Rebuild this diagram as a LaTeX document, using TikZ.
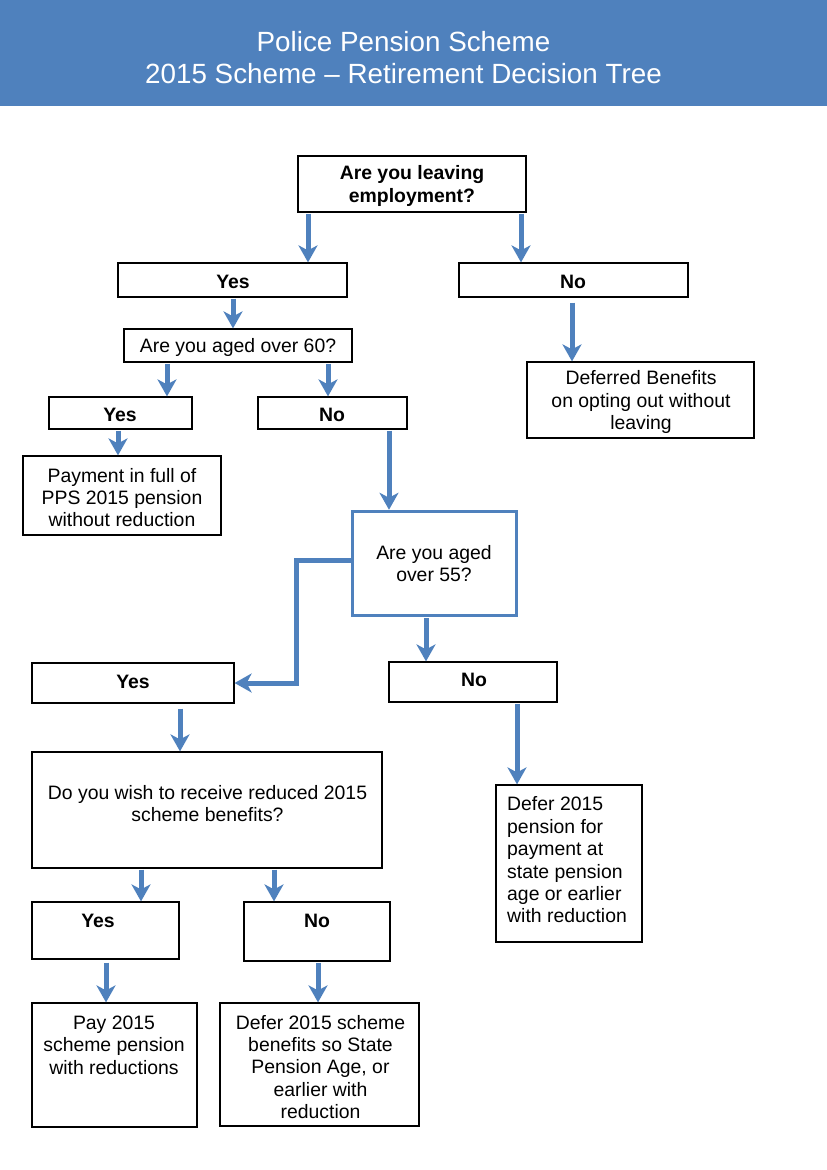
\documentclass[tikz,border=0pt]{standalone}
\usepackage{fontspec}
\setmainfont{Liberation Sans}
\usetikzlibrary{arrows.meta,calc}
\definecolor{pblue}{HTML}{4F81BD}
\begin{document}
\begin{tikzpicture}[x=1pt,y=-1pt,
  box/.style={draw=black,line width=1.2pt,rectangle,inner sep=0pt},
  qbox/.style={draw=pblue,line width=3.5pt,rectangle,inner sep=0pt},
  txt/.style={inner sep=0pt,align=center,font=\fontsize{19.4}{22.4}\selectfont},
  btxt/.style={inner sep=0pt,align=center,font=\fontsize{19.4}{22.4}\selectfont\bfseries},
  arr/.style={draw=pblue,line width=5pt,shorten <=1pt,-{Stealth[width=19pt,length=17pt,inset=5pt]}}
]
\useasboundingbox (0,0) rectangle (827,1170);
% header
\node[fill=pblue,draw=none,inner sep=0pt,minimum width=827pt,minimum height=106pt] (header) at (413.5,53) {};
\node[text=white,inner sep=0pt,anchor=base,font=\fontsize{27.8}{32}\selectfont] (title1) at (403.5,51) {Police Pension Scheme};
\node[text=white,inner sep=0pt,anchor=base,font=\fontsize{27.8}{32}\selectfont] (title2) at (403.5,83) {2015 Scheme -- Retirement Decision Tree};

% boxes
\node[box,minimum width=228pt,minimum height=56pt] (q1) at (412,184) {};
\node[box,minimum width=229pt,minimum height=34pt] (yes1) at (232.5,280) {};
\node[box,minimum width=229pt,minimum height=34pt] (no1) at (573.5,280) {};
\node[box,minimum width=228pt,minimum height=33pt] (q60) at (238,345.5) {};
\node[box,minimum width=143pt,minimum height=32pt] (yes2) at (120.5,413) {};
\node[box,minimum width=149pt,minimum height=32pt] (no2) at (332.5,413) {};
\node[box,minimum width=198pt,minimum height=79pt] (pay1) at (122,495.5) {};
\node[qbox,minimum width=164pt,minimum height=104pt] (q55) at (434.5,563.5) {};
\node[box,minimum width=202pt,minimum height=40pt] (yes3) at (133,683) {};
\node[box,minimum width=168pt,minimum height=40pt] (no3) at (473,682) {};
\node[box,minimum width=350pt,minimum height=116pt] (qred) at (207,810) {};
\node[box,minimum width=147pt,minimum height=57pt] (yes4) at (105.5,930.5) {};
\node[box,minimum width=146pt,minimum height=59pt] (no4) at (317,931.5) {};
\node[box,minimum width=165pt,minimum height=124pt] (pay2) at (114.5,1065) {};
\node[box,minimum width=199pt,minimum height=123pt] (defer2) at (319.5,1064.5) {};
\node[box,minimum width=146pt,minimum height=157pt] (defer1) at (569,863.5) {};
\node[box,minimum width=227pt,minimum height=76pt] (deferred) at (640.5,400) {};

% texts
\node[btxt] (t-q1) at (412,186) {Are you leaving\\employment?};
\node[btxt] (t-yes1) at (233,281.5) {Yes};
\node[btxt] (t-no1) at (573,281.5) {No};
\node[txt] (t-q60) at (238,347.5) {Are you aged over 60?};
\node[btxt] (t-yes2) at (120,414.5) {Yes};
\node[btxt] (t-no2) at (332,414.5) {No};
\node[txt] (t-pay1) at (122,497.5) {Payment in full of\\PPS 2015 pension\\without reduction};
\node[txt] (t-q55) at (434,563.5) {Are you aged\\over 55?};
\node[btxt] (t-yes3) at (133,681.5) {Yes};
\node[btxt] (t-no3) at (474,679.5) {No};
\node[txt] (t-qred) at (207.5,803.5) {Do you wish to receive reduced 2015\\scheme benefits?};
\node[btxt] (t-yes4) at (98,920.5) {Yes};
\node[btxt] (t-no4) at (317,920.5) {No};
\node[txt] (t-pay2) at (114,1045) {Pay 2015\\scheme pension\\with reductions};
\node[txt] (t-defer2) at (320.5,1067) {Defer 2015 scheme\\benefits so State\\Pension Age, or\\earlier with\\reduction};
\node[txt,align=left,anchor=west] (t-defer1) at (507,860) {Defer 2015\\pension for\\payment at\\state pension\\age or earlier\\with reduction};
\node[txt] (t-deferred) at (641,402) {Deferred Benefits\\on opting out without\\leaving};

% arrow x positions
\coordinate (k1) at (308,0);
\coordinate (k2) at (521,0);
\coordinate (k3) at (233,0);
\coordinate (k4) at (572,0);
\coordinate (k5) at (167,0);
\coordinate (k6) at (328,0);
\coordinate (k7) at (118,0);
\coordinate (k8) at (389,0);
\coordinate (k9) at (426,0);
\coordinate (k11) at (517,0);
\coordinate (k12) at (180,0);
\coordinate (k13) at (141,0);
\coordinate (k14) at (274,0);
\coordinate (k15) at (106,0);
\coordinate (k16) at (318,0);
\coordinate (bend) at (296,0);

% arrows
\draw[arr] (q1.south -| k1) -- (yes1.north -| k1);
\draw[arr] (q1.south -| k2) -- (no1.north -| k2);
\draw[arr] (yes1.south -| k3) -- (q60.north -| k3);
\draw[arr,shorten <=5pt] (no1.south -| k4) -- (deferred.north -| k4);
\draw[arr] (q60.south -| k5) -- (yes2.north -| k5);
\draw[arr] (q60.south -| k6) -- (no2.north -| k6);
\draw[arr] (yes2.south -| k7) -- (pay1.north -| k7);
\draw[arr] (no2.south -| k8) -- (q55.north -| k8);
\draw[arr] (q55.south -| k9) -- (no3.north -| k9);
\draw[arr,shorten <=0pt] ([yshift=3.5pt]q55.west) -- ([yshift=3.5pt]q55.west -| bend) |- (yes3.east);
\draw[arr] (no3.south -| k11) -- (defer1.north -| k11);
\draw[arr,shorten <=5pt] (yes3.south -| k12) -- (qred.north -| k12);
\draw[arr] (qred.south -| k13) -- (yes4.north -| k13);
\draw[arr] (qred.south -| k14) -- (no4.north -| k14);
\draw[arr,shorten <=3pt] (yes4.south -| k15) -- (pay2.north -| k15);
\draw[arr] (no4.south -| k16) -- (defer2.north -| k16);
\end{tikzpicture}
\end{document}
